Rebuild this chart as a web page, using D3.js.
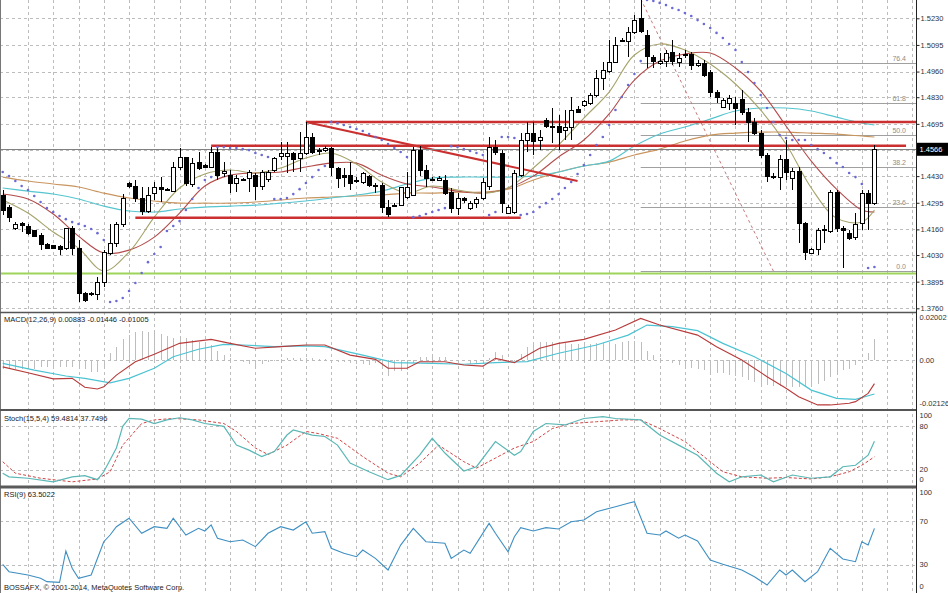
<!DOCTYPE html>
<html><head><meta charset="utf-8">
<script src="https://cdn.jsdelivr.net/npm/d3@7"></script>
<style>
body{margin:0;background:#fff}
svg{display:block}
text{font-family:"Liberation Sans",Arial,sans-serif;}
</style></head><body>
<svg id="c" width="948" height="593"></svg>
<script>
// ---------------- DATA ----------------
const openP = [1.4334,1.4273,1.4167,1.4192,1.4177,1.4152,1.4131,1.4081,1.4076,1.4071,
1.4065,1.4162,1.4065,1.3837,1.3837,1.3832,1.3893,1.4040,1.4091,1.4187,
1.4395,1.4375,1.4319,1.4253,1.4344,1.4370,1.4364,1.4354,1.4476,1.4522,
1.4390,1.4501,1.4486,1.4476,1.4552,1.4441,1.4435,1.4395,1.4415,1.4420,
1.4435,1.4375,1.4415,1.4456,1.4527,1.4532,1.4547,1.4517,1.4547,1.4628,
1.4562,1.4562,1.4572,1.4471,1.4435,1.4435,1.4410,1.4400,1.4430,1.4380,
1.4380,1.4273,1.4283,1.4283,1.4324,1.4334,1.4562,1.4461,1.4415,1.4410,
1.4410,1.4349,1.4268,1.4319,1.4268,1.4293,1.4319,1.4375,1.4577,1.4547,
1.4243,1.4248,1.4435,1.4613,1.4648,1.4613,1.4714,1.4684,1.4684,1.4659,
1.4674,1.4770,1.4790,1.4800,1.4841,1.4927,1.4958,1.5008,1.5120,1.5110,
1.5156,1.5227,1.5145,1.5029,1.5003,1.5013,1.5059,1.5008,1.5044,1.5044,
1.4993,1.5003,1.4953,1.4856,1.4780,1.4800,1.4800,1.4816,1.4755,1.4704,
1.4648,1.4537,1.4430,1.4425,1.4512,1.4420,1.4451,1.4192,1.4040,1.4060,
1.4152,1.4147,1.4349,1.4167,1.4141,1.4121,1.4192,1.4344,1.4293];
const highP = [1.4360,1.4283,1.4197,1.4197,1.4187,1.4157,1.4141,1.4091,1.4081,1.4081,
1.4167,1.4177,1.4106,1.3842,1.3842,1.3918,1.4055,1.4187,1.4197,1.4339,
1.4400,1.4410,1.4375,1.4375,1.4400,1.4425,1.4370,1.4501,1.4572,1.4527,
1.4522,1.4552,1.4491,1.4577,1.4572,1.4501,1.4461,1.4435,1.4420,1.4461,
1.4446,1.4461,1.4461,1.4527,1.4603,1.4603,1.4552,1.4653,1.4704,1.4648,
1.4572,1.4582,1.4577,1.4476,1.4471,1.4501,1.4425,1.4451,1.4435,1.4395,
1.4395,1.4309,1.4293,1.4375,1.4451,1.4577,1.4582,1.4486,1.4425,1.4430,
1.4435,1.4370,1.4344,1.4324,1.4304,1.4324,1.4420,1.4628,1.4613,1.4562,
1.4283,1.4461,1.4648,1.4704,1.4704,1.4664,1.4724,1.4775,1.4740,1.4765,
1.4831,1.4785,1.4816,1.4851,1.4968,1.5008,1.5120,1.5135,1.5130,1.5186,
1.5247,1.5323,1.5171,1.5044,1.5054,1.5069,1.5120,1.5054,1.5069,1.5059,
1.5019,1.5019,1.4968,1.4867,1.4826,1.4841,1.4831,1.4867,1.4775,1.4724,
1.4664,1.4547,1.4446,1.4537,1.4613,1.4471,1.4476,1.4197,1.4065,1.4167,
1.4182,1.4360,1.4360,1.4177,1.4157,1.4243,1.4360,1.4360,1.4588];
const lowP = [1.4233,1.4197,1.4157,1.4147,1.4131,1.4121,1.4055,1.4060,1.4060,1.4030,
1.4055,1.4030,1.3792,1.3792,1.3822,1.3802,1.3868,1.4030,1.4071,1.4172,
1.4370,1.4299,1.4233,1.4243,1.4309,1.4299,1.4354,1.4349,1.4461,1.4380,
1.4375,1.4461,1.4471,1.4471,1.4410,1.4425,1.4344,1.4349,1.4405,1.4349,
1.4309,1.4360,1.4400,1.4451,1.4512,1.4446,1.4451,1.4451,1.4537,1.4542,
1.4537,1.4552,1.4430,1.4370,1.4375,1.4360,1.4395,1.4390,1.4375,1.4344,
1.4243,1.4222,1.4273,1.4278,1.4314,1.4329,1.4430,1.4375,1.4405,1.4405,
1.4334,1.4243,1.4233,1.4293,1.4258,1.4268,1.4309,1.4360,1.4537,1.4243,
1.4238,1.4238,1.4425,1.4552,1.4537,1.4562,1.4674,1.4598,1.4562,1.4613,
1.4613,1.4750,1.4780,1.4790,1.4831,1.4867,1.4953,1.5003,1.5110,1.5034,
1.5150,1.5156,1.4978,1.4978,1.4993,1.4983,1.4993,1.4983,1.5029,1.4968,
1.4983,1.4932,1.4831,1.4800,1.4775,1.4765,1.4689,1.4740,1.4603,1.4638,
1.4522,1.4400,1.4415,1.4360,1.4410,1.4360,1.4091,1.4005,1.4035,1.4030,
1.4091,1.4141,1.4147,1.3964,1.4106,1.4106,1.4157,1.4157,1.4283];
const closeP = [1.4258,1.4222,1.4187,1.4182,1.4141,1.4126,1.4081,1.4065,1.4065,1.4060,
1.4162,1.4065,1.3837,1.3802,1.3832,1.3893,1.4045,1.4091,1.4187,1.4319,
1.4375,1.4319,1.4253,1.4334,1.4370,1.4364,1.4360,1.4476,1.4522,1.4395,
1.4496,1.4471,1.4476,1.4552,1.4435,1.4451,1.4395,1.4420,1.4410,1.4446,
1.4375,1.4446,1.4446,1.4517,1.4547,1.4547,1.4512,1.4547,1.4628,1.4552,
1.4557,1.4572,1.4476,1.4420,1.4425,1.4395,1.4405,1.4441,1.4385,1.4375,
1.4273,1.4233,1.4278,1.4370,1.4370,1.4562,1.4456,1.4420,1.4410,1.4420,
1.4344,1.4268,1.4319,1.4304,1.4293,1.4314,1.4400,1.4577,1.4552,1.4293,
1.4273,1.4441,1.4613,1.4648,1.4603,1.4628,1.4684,1.4679,1.4653,1.4674,
1.4765,1.4755,1.4806,1.4841,1.4927,1.4963,1.5008,1.5090,1.5115,1.5156,
1.5221,1.5161,1.5034,1.5013,1.5013,1.5054,1.5013,1.5024,1.5039,1.4993,
1.5003,1.4942,1.4856,1.4831,1.4811,1.4826,1.4775,1.4755,1.4704,1.4648,
1.4537,1.4430,1.4425,1.4512,1.4446,1.4451,1.4192,1.4045,1.4060,1.4152,
1.4157,1.4349,1.4167,1.4152,1.4116,1.4187,1.4344,1.4293,1.4566];

const sarP = [1.4451,1.4430,1.4405,1.4380,1.4360,1.4329,1.4299,1.4268,1.4248,1.4228,
1.4212,1.4197,1.4187,1.4177,1.4162,1.4141,1.4106,1.3792,1.3797,1.3812,
1.3848,1.3888,1.3939,1.3994,1.4035,1.4071,1.4152,1.4177,1.4202,1.4258,
1.4314,1.4370,1.4410,1.4425,1.4577,1.4577,1.4572,1.4572,1.4567,1.4562,
1.4547,1.4537,1.4527,1.4314,1.4314,1.4319,1.4339,1.4364,1.4395,1.4425,
1.4461,1.4481,1.4704,1.4699,1.4689,1.4679,1.4669,1.4659,1.4643,1.4628,
1.4613,1.4593,1.4572,1.4552,1.4527,1.4222,1.4228,1.4238,1.4248,1.4258,
1.4268,1.4582,1.4577,1.4567,1.4557,1.4547,1.4537,1.4233,1.4248,1.4628,
1.4628,1.4623,1.4233,1.4238,1.4248,1.4273,1.4293,1.4314,1.4339,1.4370,
1.4400,1.4441,1.4486,1.4537,1.4588,1.4628,1.4689,1.4765,1.4831,1.4892,
1.4948,1.5013,1.5323,1.5318,1.5308,1.5297,1.5282,1.5272,1.5257,1.5242,
1.5221,1.5201,1.5181,1.5156,1.5130,1.5100,1.5069,1.5008,1.4958,1.4902,
1.4841,1.4775,1.4704,1.4638,1.4623,1.4613,1.4613,1.4613,1.4588,1.4567,
1.4547,1.4522,1.4496,1.4476,1.4446,1.4425,1.4390,1.3964,1.3969];

// moving averages, read every 4 bars
const maIdx = [0,4,8,12,16,20,24,28,32,36,40,44,48,52,56,60,64,68,72,76,80,84,88,92,96,100,104,108,112,116,120,124,128,132,136,138];
const maFast = [1.4309,1.4243,1.4147,1.4065,1.3949,1.4045,1.4222,1.4370,1.4441,1.4461,1.4446,1.4471,1.4522,1.4547,1.4491,1.4400,1.4344,1.4380,1.4360,1.4344,1.4370,1.4471,1.4588,1.4724,1.4856,1.5044,1.5100,1.5069,1.4998,1.4897,1.4765,1.4593,1.4370,1.4217,1.4197,1.4258];
const maMid = [1.4339,1.4314,1.4238,1.4126,1.4040,1.4055,1.4121,1.4243,1.4380,1.4435,1.4446,1.4451,1.4476,1.4496,1.4496,1.4435,1.4390,1.4375,1.4354,1.4344,1.4370,1.4430,1.4527,1.4613,1.4745,1.4917,1.5013,1.5049,1.5054,1.4978,1.4861,1.4684,1.4506,1.4364,1.4258,1.4248];
const maSlowTan = [1.4425,1.4405,1.4390,1.4375,1.4344,1.4319,1.4304,1.4293,1.4293,1.4293,1.4299,1.4309,1.4319,1.4324,1.4329,1.4334,1.4344,1.4344,1.4349,1.4349,1.4364,1.4410,1.4451,1.4481,1.4501,1.4537,1.4567,1.4608,1.4638,1.4648,1.4653,1.4653,1.4648,1.4643,1.4633,1.4628];
const maSlowCyan = [1.4370,1.4354,1.4339,1.4314,1.4278,1.4253,1.4248,1.4263,1.4273,1.4278,1.4283,1.4293,1.4304,1.4319,1.4334,1.4354,1.4390,1.4420,1.4425,1.4425,1.4425,1.4430,1.4451,1.4481,1.4506,1.4582,1.4643,1.4679,1.4719,1.4760,1.4775,1.4775,1.4760,1.4729,1.4699,1.4689];

// drawn objects
const resUpper = 1.4704, resUpperFrom = 48;
const resLower = 1.4584, resLowerFrom = 33, resLowerTo = 143;
const supLevel = 1.4219, supFrom = 21, supTo = 82;
const trendFrom = [48, 1.4704], trendTo = [91, 1.4405];
const greenLevel = 1.3937;
const fibHigh = 1.5328, fibLow = 1.3949, fibFromBar = 101, fibToBar = 122;
const fibLevels = [0, 23.6, 38.2, 50.0, 61.8, 76.4];
const fibLabels = ["0.0","23.6","38.2","50.0","61.8","76.4"];
const bidPrice = 1.4566;

const priceTicks = [1.5230,1.5095,1.4960,1.4830,1.4695,1.4560,1.4430,1.4295,1.4160,1.4030,1.3895,1.3760];
const priceLabels = ["1.5230","1.5095","1.4960","1.4830","1.4695","1.4560","1.4430","1.4295","1.4160","1.4030","1.3895","1.3760"];

// MACD
const macdIdx = [0,4,8,11,13,15,16,18,21,24,28,33,36,40,44,48,51,55,59,61,64,66,70,73,76,78,81,85,88,92,97,101,104,110,113,117,121,124,126,129,131,134,135,137,138];
const macdMain = [-0.0029,-0.0054,-0.0080,-0.0078,-0.0116,-0.0123,-0.0114,-0.0064,-0.0007,0.0025,0.0071,0.0088,0.0071,0.0050,0.0057,0.0064,0.0064,0.0021,0.0003,-0.0035,-0.0035,-0.0007,-0.0007,-0.0021,-0.0026,0.0007,-0.0011,0.0050,0.0071,0.0088,0.0128,0.0177,0.0149,0.0106,0.0057,0.0000,-0.0071,-0.0120,-0.0156,-0.0191,-0.0191,-0.0184,-0.0177,-0.0142,-0.01005];
const sigIdx = [0,5,10,13,17,20,24,27,31,35,38,43,48,51,57,62,68,73,78,83,88,94,99,102,106,110,114,119,124,128,132,135,138];
const macdSignal = [-0.0014,-0.0043,-0.0068,-0.0078,-0.0097,-0.0078,-0.0035,0.0014,0.0046,0.0067,0.0064,0.0057,0.0060,0.0057,0.0021,-0.0011,-0.0014,-0.0018,-0.0011,-0.0007,0.0029,0.0064,0.0106,0.0149,0.0142,0.0125,0.0071,0.0014,-0.0057,-0.0128,-0.0163,-0.0167,-0.01446];
const macdHist = [-0.004,-0.004,-0.004,-0.004,-0.004,-0.004,-0.003,-0.003,-0.003,-0.003,
-0.003,-0.003,-0.004,-0.004,-0.005,-0.005,-0.004,
0.003,0.0056,0.009,0.0106,0.012,0.0124,0.012,0.012,0.011,0.0104,0.0092,
0.0098,0.0092,0.0084,0.0076,0.0068,0.0062,0.004,0.002,0.001,0.0002,
-0.0008,-0.0016,-0.0024,-0.0015,-0.001,-0.0005,
0.0005,0.0008,0.001,0.001,0.001,0.0008,0.0006,0.0005,
-0.0004,-0.0008,-0.001,-0.0014,-0.0016,-0.0018,-0.002,
-0.0014,-0.004,-0.007,-0.0048,-0.0046,-0.0044,-0.0014,
0.0012,0.0014,0.0014,0.0014,0.0012,
-0.0002,-0.0004,-0.0006,-0.0016,-0.0016,-0.0016,
0.0008,0.0036,0.002,0,-0.0006,
0.0026,0.0054,0.007,0.0075,0.0075,0.0075,0.0075,0.0072,0.007,0.0068,0.0066,0.007,0.0072,0.0072,0.0072,0.007,0.0076,0.008,0.008,0.0076,
0.0038,0.0022,0.0008,-0.0004,-0.0014,-0.002,-0.0028,-0.0032,-0.0038,-0.0042,-0.005,-0.0054,-0.0056,-0.0064,-0.0068,
-0.0074,-0.0086,-0.0095,-0.01,-0.0105,-0.011,-0.0112,-0.0115,-0.0115,-0.0115,
-0.011,-0.0104,-0.0104,-0.009,-0.0074,-0.0052,-0.0044,-0.0036,-0.002,-0.0004,0.003,0.00883];
const macdTicks = [0.02002, 0, -0.02126];
const macdTickLabels = ["0.02002","0.00","-0.02126"];

// Stochastic
const stochKIdx = [0,1,4,8,11,13,15,16,18,19,20,22,24,26,28,30,32,35,37,39,41,43,45,46,49,51,53,55,58,61,63,66,68,70,73,75,78,81,82,84,86,89,92,95,97,101,104,107,110,113,115,117,120,122,125,128,131,133,135,137,138];
const stochK = [15,10,8,3,10,11.5,6,17,50,80,91,90,84,89,92,89,84,80,54,47,38,45,68,75,68,66,54,29,17,6,12,40,63.5,43,18,24,59,40,45,73,84,82,91,93.5,91,89,68,54,40,15,3,10,12.5,3,12.5,8,10,24,26,40,59.48];
const stochDIdx = [0,2,6,11,15,17,19,22,24,27,31,35,37,40,42,45,48,50,53,57,61,63,66,69,73,75,78,81,84,87,90,94,98,101,104,108,111,114,117,121,124,128,131,134,136,138];
const stochD = [31,15,8,3,7,17,54,84,89,91,89,84,73,50,41,54,73,70,63.5,38,15,10,29,54,31,22,36,50,59,77,84,86.5,89,89,77,59,38,17,10,8,9,7,10,17,26,37.75];
const stochTicks = [100,80,20,0];
const stochLevels = [80,20];

// RSI
const rsiIdx = [0,1,4,6,7,9,10,11,12,14,16,17,18,20,22,24,26,27,29,31,32,33,34,36,38,40,42,44,46,48,49,51,52,54,56,57,59,61,63,65,67,70,71,73,74,77,78,80,81,82,84,86,88,90,92,94,97,99,100,102,104,105,107,108,110,112,114,117,119,121,123,124,125,127,129,130,131,133,135,136,137,138];
const rsiVals = [30.3,23.4,20.4,17.3,14.2,13.6,42.6,26.6,17.3,20.4,51.2,57.4,65.1,72.9,59,65.1,63.6,72.9,57.4,63.6,61.1,66.7,54.4,51.2,52.8,46.6,59,65.1,62,69.7,59,60.5,45.1,40.5,37.3,43.5,35.8,25,48.1,63.6,51.2,49.7,35.8,43.5,40.5,68.2,59,41.9,55.8,64.2,61.1,64.2,63,69.7,71.3,79,83.6,86.8,88.2,59,57.4,61.1,54.4,57.4,51.9,34.3,30.3,25,18.8,11.1,25,20.4,25,14.2,23.4,34.3,45.1,35.2,32.7,51.2,48.1,63.5];
const rsiTicks = [100,70,30,0];
const rsiLevels = [70,30];

const gridBars = [4,8,12,16,20,24,28,32,36,40,44,48,52,56,60,64,68,72,76,80,84,88,92,96,100,104,108,112,116,120,124,128,132,136,140,144];

// ---------------- LAYOUT ----------------
const svg = d3.select('#c');
const AX = 916.5;
const panels = {
  main: {top:0, bottom:312},
  macd: {top:313, bottom:410},
  stoch:{top:411, bottom:486},
  rsi:  {top:488, bottom:593}
};
const x = d3.scaleLinear().domain([0,144]).range([2.7, 2.7+6.317*144]);
const yM = d3.scaleLinear().domain([1.3760,1.5230]).range([308.3,18.3]);
const yMacd = d3.scaleLinear().domain([-0.02126,0.02002]).range([410,313]);
const yS = d3.scaleLinear().domain([0,100]).range([484,412]);
const yR = d3.scaleLinear().domain([0,100]).range([597,489]);
const px = i => Math.round(x(i)) + 0.5;

const defs = svg.append('defs');
Object.entries(panels).forEach(([k,p])=>{
  defs.append('clipPath').attr('id','clip-'+k).append('rect')
    .attr('x',0).attr('y',p.top).attr('width',916).attr('height',p.bottom-p.top);
});

svg.append('rect').attr('width',948).attr('height',593).attr('fill','#fff');

const gridColor = '#bcbcbc';
svg.append('g').selectAll('line').data(gridBars).join('line')
  .attr('x1',d=>px(d)).attr('x2',d=>px(d)).attr('y1',0).attr('y2',593)
  .attr('stroke',gridColor).attr('stroke-dasharray','3,3').attr('shape-rendering','crispEdges');
svg.append('g').selectAll('line').data(priceTicks).join('line')
  .attr('x1',0).attr('x2',916).attr('y1',d=>Math.round(yM(d))+0.5).attr('y2',d=>Math.round(yM(d))+0.5)
  .attr('stroke',gridColor).attr('stroke-dasharray','3,3').attr('shape-rendering','crispEdges');
svg.append('line').attr('x1',0).attr('x2',916).attr('y1',Math.round(yMacd(0))+0.5).attr('y2',Math.round(yMacd(0))+0.5)
  .attr('stroke',gridColor).attr('stroke-dasharray','3,3');
svg.append('g').selectAll('line').data(stochLevels).join('line')
  .attr('x1',0).attr('x2',916).attr('y1',d=>Math.round(yS(d))+0.5).attr('y2',d=>Math.round(yS(d))+0.5)
  .attr('stroke',gridColor).attr('stroke-dasharray','3,3');
svg.append('g').selectAll('line').data(rsiLevels).join('line')
  .attr('x1',0).attr('x2',916).attr('y1',d=>Math.round(yR(d))+0.5).attr('y2',d=>Math.round(yR(d))+0.5)
  .attr('stroke',gridColor).attr('stroke-dasharray','3,3');

// ---------------- MAIN PANEL ----------------
const gm = svg.append('g').attr('clip-path','url(#clip-main)');

const fibY = f => yM(fibLow + (fibHigh-fibLow)*f/100);
gm.append('g').selectAll('line').data(fibLevels).join('line')
  .attr('x1',x(fibFromBar)).attr('x2',916).attr('y1',d=>Math.round(fibY(d))+0.5).attr('y2',d=>Math.round(fibY(d))+0.5)
  .attr('stroke','#a0a0a0').attr('stroke-width',1);
gm.append('g').selectAll('text').data(fibLevels).join('text')
  .attr('x',906).attr('y',d=>fibY(d)-2).attr('text-anchor','end')
  .attr('font-size','7px').attr('fill','#8c8c8c').text((d,i)=>fibLabels[i]);
gm.append('line').attr('x1',x(fibFromBar)).attr('y1',yM(fibHigh)).attr('x2',x(fibToBar)).attr('y2',yM(fibLow))
  .attr('stroke','#c87a7a').attr('stroke-width',1).attr('stroke-dasharray','3,3');

gm.append('line').attr('x1',0).attr('x2',916).attr('y1',yM(greenLevel)).attr('y2',yM(greenLevel))
  .attr('stroke','#9ed45a').attr('stroke-width',2);

const maLine = d3.line().x(d=>x(d[0])).y(d=>yM(d[1])).curve(d3.curveCatmullRom);
const mas = [[maSlowTan,'#c9955f'],[maSlowCyan,'#55c5cf'],[maMid,'#b44c4c'],[maFast,'#a6a26a']];
mas.forEach(([arr,col])=>{
  gm.append('path').attr('d',maLine(maIdx.map((b,i)=>[b,arr[i]])))
    .attr('fill','none').attr('stroke',col).attr('stroke-width',1.1);
});

const red = '#c9302f';
gm.append('line').attr('x1',x(resUpperFrom)).attr('x2',916).attr('y1',yM(resUpper)).attr('y2',yM(resUpper))
  .attr('stroke',red).attr('stroke-width',2.5);
gm.append('line').attr('x1',x(resLowerFrom)).attr('x2',x(resLowerTo)).attr('y1',yM(resLower)).attr('y2',yM(resLower))
  .attr('stroke',red).attr('stroke-width',2.5);
gm.append('line').attr('x1',x(supFrom)).attr('x2',x(supTo)).attr('y1',yM(supLevel)).attr('y2',yM(supLevel))
  .attr('stroke',red).attr('stroke-width',2.5);
gm.append('line').attr('x1',x(trendFrom[0])).attr('y1',yM(trendFrom[1])).attr('x2',x(trendTo[0])).attr('y2',yM(trendTo[1]))
  .attr('stroke',red).attr('stroke-width',2);

gm.append('line').attr('x1',0).attr('x2',916).attr('y1',Math.round(yM(bidPrice))+0.5).attr('y2',Math.round(yM(bidPrice))+0.5)
  .attr('stroke','#808080').attr('stroke-width',1);

const candles = openP.map((o,i)=>({i,o,h:highP[i],l:lowP[i],c:closeP[i]}));
const gc = gm.append('g').attr('shape-rendering','crispEdges');
gc.selectAll('line').data(candles).join('line')
  .attr('x1',d=>px(d.i)).attr('x2',d=>px(d.i)).attr('y1',d=>yM(d.h)).attr('y2',d=>yM(d.l))
  .attr('stroke','#000').attr('stroke-width',1);
gc.selectAll('rect').data(candles).join('rect')
  .attr('x',d=>Math.round(x(d.i))-1.5).attr('width',4)
  .attr('y',d=>Math.min(yM(d.o),yM(d.c)))
  .attr('height',d=>Math.max(1,Math.abs(yM(d.o)-yM(d.c))))
  .attr('fill',d=>d.c>=d.o?'#fff':'#000').attr('stroke','#000').attr('stroke-width',1);

gm.append('g').selectAll('circle').data(sarP).join('circle')
  .attr('cx',(d,i)=>x(i)).attr('cy',d=>yM(d)).attr('r',1.3).attr('fill','#6b6bd6');

// ---------------- MACD ----------------
const gmacd = svg.append('g').attr('clip-path','url(#clip-macd)');
gmacd.append('g').attr('shape-rendering','crispEdges').selectAll('line').data(macdHist).join('line')
  .attr('x1',(d,i)=>px(i)).attr('x2',(d,i)=>px(i)).attr('y1',yMacd(0)).attr('y2',d=>yMacd(d))
  .attr('stroke','#bdbdbd').attr('stroke-width',1);
const mLine = d3.line().x(d=>x(d[0])).y(d=>yMacd(d[1]));
gmacd.append('path').attr('d',mLine(sigIdx.map((b,i)=>[b,macdSignal[i]])))
  .attr('fill','none').attr('stroke','#4cc3d3').attr('stroke-width',1.2);
gmacd.append('path').attr('d',mLine(macdIdx.map((b,i)=>[b,macdMain[i]])))
  .attr('fill','none').attr('stroke','#b83a3a').attr('stroke-width',1.1);

// ---------------- STOCH ----------------
const gst = svg.append('g').attr('clip-path','url(#clip-stoch)');
const sLine = d3.line().x(d=>x(d[0])).y(d=>yS(d[1]));
gst.append('path').attr('d',sLine(stochDIdx.map((b,i)=>[b,stochD[i]])))
  .attr('fill','none').attr('stroke','#d04545').attr('stroke-width',1).attr('stroke-dasharray','3,2');
gst.append('path').attr('d',sLine(stochKIdx.map((b,i)=>[b,stochK[i]])))
  .attr('fill','none').attr('stroke','#5ab7b5').attr('stroke-width',1.2);

// ---------------- RSI ----------------
const grsi = svg.append('g').attr('clip-path','url(#clip-rsi)');
const rLine = d3.line().x(d=>x(d[0])).y(d=>yR(d[1]));
grsi.append('path').attr('d',rLine(rsiIdx.map((b,i)=>[b,rsiVals[i]])))
  .attr('fill','none').attr('stroke','#3f8fc2').attr('stroke-width',1.1);

// ---------------- FRAME ----------------
svg.append('line').attr('x1',0.5).attr('x2',0.5).attr('y1',0).attr('y2',593).attr('stroke','#777');
[[312.5,1.5,'#555'],[410,2,'#555'],[487,3,'#5a5a5a']].forEach(([yy,w,c])=>{
  svg.append('line').attr('x1',0).attr('x2',AX).attr('y1',yy).attr('y2',yy).attr('stroke',c).attr('stroke-width',w);
});
svg.append('line').attr('x1',AX).attr('x2',AX).attr('y1',0).attr('y2',593).attr('stroke','#222').attr('stroke-width',1);

const fs = '7.5px', tc = '#333';
const axMain = d3.axisRight(yM).tickValues(priceTicks).tickFormat((d,i)=>priceLabels[i]).tickSize(3).tickPadding(1);
const gax = svg.append('g').attr('transform',`translate(${AX},0)`).call(axMain);
gax.select('.domain').remove();
gax.selectAll('text').attr('font-size',fs).attr('fill',tc).attr('font-family','"Liberation Sans",Arial,sans-serif');
gax.selectAll('line').attr('stroke','#222');

function sideLabels(ticks, labels, scale, top, bottom){
  svg.append('g').selectAll('text').data(ticks).join('text')
    .attr('x',AX+3).attr('y',d=>Math.max(top+5, Math.min(bottom-6, scale(d))))
    .attr('dy','0.33em').attr('font-size',fs).attr('fill',tc).text((d,i)=>labels[i]);
}
sideLabels(macdTicks, macdTickLabels, yMacd, 313, 410);
sideLabels(stochTicks, stochTicks.map(String), yS, 411, 486);
sideLabels(rsiTicks, rsiTicks.map(String), yR, 488, 593);

const by = yM(bidPrice);
svg.append('rect').attr('x',AX+0.5).attr('y',by-6.5).attr('width',31).attr('height',13).attr('fill','#000');
svg.append('text').attr('x',AX+3).attr('y',by).attr('dy','0.33em').attr('font-size',fs).attr('fill','#fff').text('1.4566');

const titles = [['MACD(12,26,9) 0.00883 -0.01446 -0.01005',322],['Stoch(15,5,4) 59.4814 37.7496',421],['RSI(9) 63.5022',497],['BOSSAFX, © 2001-2014, MetaQuotes Software Corp.',590]];
svg.append('g').selectAll('text').data(titles).join('text')
  .attr('x',4).attr('y',d=>d[1]).attr('font-size',fs).attr('fill','#222').text(d=>d[0]);
</script>
</body></html>
